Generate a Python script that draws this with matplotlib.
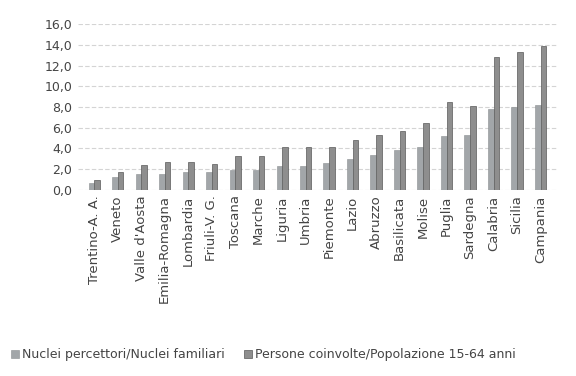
import matplotlib.pyplot as plt
import numpy as np

regioni = ["Trentino-A. A.", "Veneto", "Valle d'Aosta", "Emilia-Romagna", "Lombardia",
           "Friuli-V. G.", "Toscana", "Marche", "Liguria", "Umbria", "Piemonte", "Lazio",
           "Abruzzo", "Basilicata", "Molise", "Puglia", "Sardegna", "Calabria", "Sicilia",
           "Campania"]
nuclei = [0.7, 1.2, 1.5, 1.5, 1.7, 1.7, 1.9, 1.9, 2.3, 2.3, 2.6, 3.0, 3.4, 3.8, 4.1,
          5.2, 5.3, 7.8, 8.0, 8.2]
persone = [1.0, 1.7, 2.4, 2.7, 2.7, 2.5, 3.3, 3.3, 4.1, 4.1, 4.1, 4.8, 5.3, 5.7, 6.5,
           8.5, 8.1, 12.8, 13.3, 13.9]
yticks = np.arange(0, 17, 2)

fig = plt.figure(figsize=(5.76, 3.76), dpi=100)
ax = fig.add_axes([0.135, 0.495, 0.832, 0.441])

x = np.arange(len(regioni))
w = 0.24
ax.bar(x - w / 2, nuclei, w, color="#a2a6a9", edgecolor="#8a8e91", linewidth=0.4,
       label="Nuclei percettori/Nuclei familiari", zorder=3)
ax.bar(x + w / 2, persone, w, color="#8e8e8e", edgecolor="#5a5a5a", linewidth=0.5,
       label="Persone coinvolte/Popolazione 15-64 anni", zorder=3)

ax.set_ylim(0, 16)
ax.set_xlim(-0.7, len(regioni) - 0.3)
ax.set_yticks(yticks)
ax.set_yticklabels([f"{v:.1f}".replace(".", ",") for v in yticks], fontsize=9, color="#444444")
ax.set_xticks(x)
ax.set_xticklabels(regioni, rotation=90, fontsize=9.5, color="#444444")
ax.tick_params(length=0, pad=4)
ax.grid(axis="y", color="#d4d4d4", linestyle=(0, (4, 2)), linewidth=0.8, zorder=0)
for s in ax.spines.values():
    s.set_visible(False)

fig.legend(loc="lower left", bbox_to_anchor=(0.0, 0.01), ncol=2, frameon=False,
           fontsize=9, handlelength=0.6, handleheight=0.6, handletextpad=0.3,
           columnspacing=1.5, labelcolor="#444444")

fig.savefig("out.png", dpi=100)
